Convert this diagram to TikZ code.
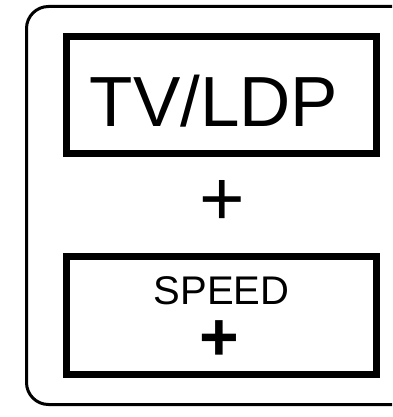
\documentclass[tikz,border=0pt]{standalone}
\usepackage{fontspec}
\setsansfont{Liberation Sans}
\usepackage{xcolor}
\definecolor{kpInk}{HTML}{000000}
\usepackage{tikz}
\usetikzlibrary{positioning,calc}

\begin{document}
\begin{tikzpicture}[
      x=1pt,y=-1pt,
      every node/.style={font=\sffamily,text=kpInk,inner sep=0pt},
      panel/.style={draw=kpInk,line width=3pt,rounded corners=22pt},
      keybox/.style={rectangle,draw=kpInk,line width=7pt,
                     minimum width=310pt,minimum height=117pt},
      biglbl/.style={font=\sffamily\fontsize{71}{71}\selectfont,anchor=base},
      smalllbl/.style={font=\sffamily\fontsize{40}{40}\selectfont,anchor=base},
      pluslbl/.style={font=\sffamily\fontsize{78}{78}\selectfont},
      boldplus/.style={font=\sffamily\bfseries\fontsize{68}{68}\selectfont,
                       anchor=base},
    ]

    % Frame (open on the right)
    \useasboundingbox (0,0) rectangle (392,417);
    \coordinate (ftop) at (392,6.5);
    \coordinate (fbot) at (392,404.5);
    \draw[panel] (ftop) -- (26.5,6.5) -- (26.5,404.5) -- (fbot);

    % Keys
    \node[keybox] (tvkey) at (221.5,95) {};
    \node[keybox,minimum height=118pt] (speedkey) at (221.5,315.5) {};

    % Labels
    \node[biglbl] (tvlbl) at ($(tvkey.south)+(-7.5,-30.5)$) {TV/LDP};
    \node[pluslbl] (plus) at (222,203) {+};
    \node[smalllbl] (speedlbl) at ($(speedkey.north)+(0,51.5)$) {SPEED};
    \node[boldplus] (speedplus) at (219,360) {+};

  \end{tikzpicture}
\end{document}
